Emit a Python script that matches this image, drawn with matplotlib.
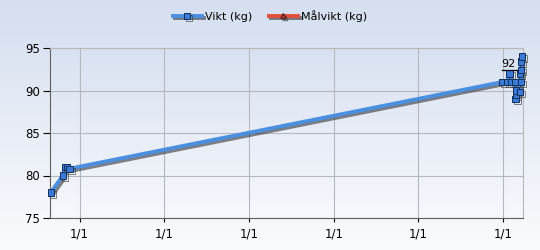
import numpy as np
import pandas as pd
import matplotlib
matplotlib.use("Agg")
import matplotlib.pyplot as plt
import matplotlib.dates as mdates
import matplotlib.patheffects as pe
from matplotlib.ticker import FuncFormatter, MultipleLocator

# weight log (date, kg)
dates = pd.to_datetime([
    "2007-08-30", "2007-10-20", "2007-10-29", "2007-11-07", "2007-11-18",
    "2012-12-29", "2013-01-18", "2013-01-29", "2013-02-04", "2013-02-20",
    "2013-02-23", "2013-02-25", "2013-02-27", "2013-03-14", "2013-03-16",
    "2013-03-18", "2013-03-19", "2013-03-20", "2013-03-23",
])
weights = [78, 80, 81, 81, 80.8,
           91, 91, 92, 91, 91,
           89, 89.5, 90, 89.8, 92,
           91, 92.4, 93.4, 94]

target_date = pd.to_datetime(["2013-01-22"])
target = [92]

fig = plt.figure(figsize=(5.4, 2.5), dpi=100)

# figure background gradient
bg = fig.add_axes([0, 0, 1, 1], zorder=-10)
grad = np.linspace(0, 1, 256).reshape(-1, 1)
top_c = np.array([213, 223, 240]) / 255
bot_c = np.array([250, 251, 253]) / 255
img = top_c * (1 - grad[..., None]) + bot_c * grad[..., None]
bg.imshow(img, aspect="auto", extent=[0, 1, 0, 1])
bg.axis("off")

ax = fig.add_axes([0.0926, 0.128, 0.876, 0.68])
ax.set_facecolor("none")
ptop = np.array([217, 226, 241]) / 255
pbot = np.array([246, 248, 252]) / 255
pimg = ptop * (1 - grad[..., None]) + pbot * grad[..., None]
ax.imshow(pimg, aspect="auto", extent=[0, 1, 0, 1], transform=ax.transAxes, zorder=0)

shadow = [pe.SimpleLineShadow(offset=(1.5, -1.5), shadow_color="#333333", alpha=0.6), pe.Normal()]

ax.plot(dates, weights, color="#4a8fe0", lw=2.8, marker="s", ms=4.5,
        mfc="#3a7ad4", mec="#12305e", mew=0.7, zorder=3, clip_on=False,
        path_effects=shadow, label="Vikt (kg)")
ax.plot([], [], color="#e0503c", lw=2.8, marker="^", ms=3.5,
        mfc="#e0503c", mec="#5a2020", path_effects=shadow, label="Målvikt (kg)")

# target label
for d, t in zip(target_date, target):
    ax.plot([d - pd.Timedelta(days=25), d + pd.Timedelta(days=40)], [t + 0.4, t + 0.4],
            color="black", lw=0.9, zorder=4)
    ax.text(d, t + 0.5, str(t), ha="center", va="bottom", fontsize=8, zorder=5)

ax.set_xlim(pd.Timestamp("2007-08-26"), pd.Timestamp("2013-03-28"))
ax.set_ylim(75, 95)
ax.yaxis.set_major_locator(MultipleLocator(5))
ax.xaxis.set_major_locator(mdates.YearLocator())
ax.xaxis.set_major_formatter(FuncFormatter(
    lambda v, p: "%d/%d" % (mdates.num2date(v).day, mdates.num2date(v).month)))

ax.grid(True, color="#b4b8c0", lw=0.8, zorder=1)
ax.set_axisbelow(True)
for s in ["top", "right"]:
    ax.spines[s].set_color("#b8b8b8")
for s in ["left", "bottom"]:
    ax.spines[s].set_color("#606060")
ax.tick_params(axis="y", length=5, color="black", labelsize=8.5, pad=2)
ax.tick_params(axis="x", length=3, color="black", labelsize=8.5, pad=4)

fig.legend(loc="upper center", bbox_to_anchor=(0.5, 1.0), ncol=2, frameon=False,
           fontsize=8, handlelength=2.6, columnspacing=1.5, handletextpad=0.3)

fig.savefig("out.png", dpi=100)
